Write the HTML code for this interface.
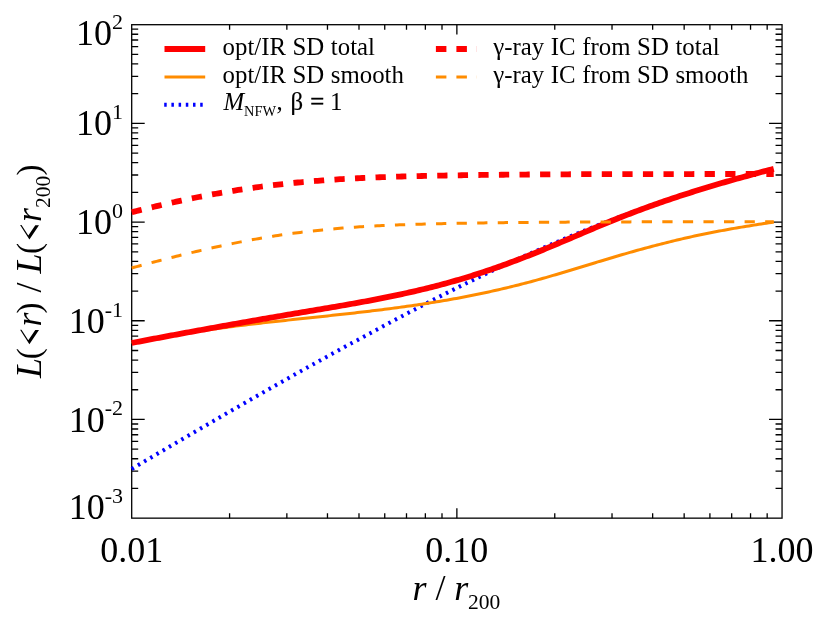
<!DOCTYPE html>
<html><head><meta charset="utf-8"><title>chart</title>
<style>html,body{margin:0;padding:0;background:#fff;}body{width:822px;height:617px;overflow:hidden;position:relative;font-family:"Liberation Serif",serif;}</style>
</head><body>
<svg width="822" height="617" viewBox="0 0 822 617" style="position:absolute;left:0;top:0;will-change:transform">
<g stroke="#000" stroke-width="1.3" fill="none" stroke-linecap="butt">
<rect x="131.7" y="24.7" width="650.3499999999999" height="493.45"/>
<path d="M229.59,518.15v-4.93 M229.59,24.7v4.93"/>
<path d="M286.85,518.15v-4.93 M286.85,24.7v4.93"/>
<path d="M327.47,518.15v-4.93 M327.47,24.7v4.93"/>
<path d="M358.99,518.15v-4.93 M358.99,24.7v4.93"/>
<path d="M384.74,518.15v-4.93 M384.74,24.7v4.93"/>
<path d="M406.50,518.15v-4.93 M406.50,24.7v4.93"/>
<path d="M425.36,518.15v-4.93 M425.36,24.7v4.93"/>
<path d="M442.00,518.15v-4.93 M442.00,24.7v4.93"/>
<path d="M456.87,518.15v-9.87 M456.87,24.7v9.87"/>
<path d="M554.76,518.15v-4.93 M554.76,24.7v4.93"/>
<path d="M612.02,518.15v-4.93 M612.02,24.7v4.93"/>
<path d="M652.65,518.15v-4.93 M652.65,24.7v4.93"/>
<path d="M684.16,518.15v-4.93 M684.16,24.7v4.93"/>
<path d="M709.91,518.15v-4.93 M709.91,24.7v4.93"/>
<path d="M731.68,518.15v-4.93 M731.68,24.7v4.93"/>
<path d="M750.54,518.15v-4.93 M750.54,24.7v4.93"/>
<path d="M767.17,518.15v-4.93 M767.17,24.7v4.93"/>
<path d="M131.7,488.44h6.5 M782.05,488.44h-6.5"/>
<path d="M131.7,471.06h6.5 M782.05,471.06h-6.5"/>
<path d="M131.7,458.73h6.5 M782.05,458.73h-6.5"/>
<path d="M131.7,449.17h6.5 M782.05,449.17h-6.5"/>
<path d="M131.7,441.35h6.5 M782.05,441.35h-6.5"/>
<path d="M131.7,434.75h6.5 M782.05,434.75h-6.5"/>
<path d="M131.7,429.02h6.5 M782.05,429.02h-6.5"/>
<path d="M131.7,423.98h6.5 M782.05,423.98h-6.5"/>
<path d="M131.7,419.46h13.0 M782.05,419.46h-13.0"/>
<path d="M131.7,389.75h6.5 M782.05,389.75h-6.5"/>
<path d="M131.7,372.37h6.5 M782.05,372.37h-6.5"/>
<path d="M131.7,360.04h6.5 M782.05,360.04h-6.5"/>
<path d="M131.7,350.48h6.5 M782.05,350.48h-6.5"/>
<path d="M131.7,342.66h6.5 M782.05,342.66h-6.5"/>
<path d="M131.7,336.06h6.5 M782.05,336.06h-6.5"/>
<path d="M131.7,330.33h6.5 M782.05,330.33h-6.5"/>
<path d="M131.7,325.29h6.5 M782.05,325.29h-6.5"/>
<path d="M131.7,320.77h13.0 M782.05,320.77h-13.0"/>
<path d="M131.7,291.06h6.5 M782.05,291.06h-6.5"/>
<path d="M131.7,273.68h6.5 M782.05,273.68h-6.5"/>
<path d="M131.7,261.35h6.5 M782.05,261.35h-6.5"/>
<path d="M131.7,251.79h6.5 M782.05,251.79h-6.5"/>
<path d="M131.7,243.97h6.5 M782.05,243.97h-6.5"/>
<path d="M131.7,237.37h6.5 M782.05,237.37h-6.5"/>
<path d="M131.7,231.64h6.5 M782.05,231.64h-6.5"/>
<path d="M131.7,226.60h6.5 M782.05,226.60h-6.5"/>
<path d="M131.7,222.08h13.0 M782.05,222.08h-13.0"/>
<path d="M131.7,192.37h6.5 M782.05,192.37h-6.5"/>
<path d="M131.7,174.99h6.5 M782.05,174.99h-6.5"/>
<path d="M131.7,162.66h6.5 M782.05,162.66h-6.5"/>
<path d="M131.7,153.10h6.5 M782.05,153.10h-6.5"/>
<path d="M131.7,145.28h6.5 M782.05,145.28h-6.5"/>
<path d="M131.7,138.68h6.5 M782.05,138.68h-6.5"/>
<path d="M131.7,132.95h6.5 M782.05,132.95h-6.5"/>
<path d="M131.7,127.91h6.5 M782.05,127.91h-6.5"/>
<path d="M131.7,123.39h13.0 M782.05,123.39h-13.0"/>
<path d="M131.7,93.68h6.5 M782.05,93.68h-6.5"/>
<path d="M131.7,76.30h6.5 M782.05,76.30h-6.5"/>
<path d="M131.7,63.97h6.5 M782.05,63.97h-6.5"/>
<path d="M131.7,54.41h6.5 M782.05,54.41h-6.5"/>
<path d="M131.7,46.59h6.5 M782.05,46.59h-6.5"/>
<path d="M131.7,39.99h6.5 M782.05,39.99h-6.5"/>
<path d="M131.7,34.26h6.5 M782.05,34.26h-6.5"/>
<path d="M131.7,29.22h6.5 M782.05,29.22h-6.5"/>
</g>
<path d="M131.70,468.94 L134.18,467.47 L136.66,466.01 L139.14,464.55 L141.62,463.08 L144.09,461.62 L146.57,460.16 L149.05,458.70 L151.53,457.24 L154.01,455.78 L156.49,454.32 L158.97,452.86 L161.45,451.40 L163.93,449.95 L166.41,448.49 L168.88,447.04 L171.36,445.58 L173.84,444.13 L176.32,442.68 L178.80,441.22 L181.28,439.77 L183.76,438.32 L186.24,436.87 L188.72,435.43 L191.19,433.98 L193.67,432.53 L196.15,431.09 L198.63,429.64 L201.11,428.20 L203.59,426.75 L206.07,425.31 L208.55,423.87 L211.03,422.43 L213.51,420.99 L215.98,419.56 L218.46,418.12 L220.94,416.68 L223.42,415.25 L225.90,413.81 L228.38,412.38 L230.86,410.95 L233.34,409.52 L235.82,408.09 L238.30,406.66 L240.77,405.24 L243.25,403.81 L245.73,402.39 L248.21,400.97 L250.69,399.55 L253.17,398.13 L255.65,396.71 L258.13,395.29 L260.61,393.87 L263.08,392.46 L265.56,391.05 L268.04,389.63 L270.52,388.22 L273.00,386.82 L275.48,385.41 L277.96,384.00 L280.44,382.60 L282.92,381.20 L285.40,379.79 L287.87,378.40 L290.35,377.00 L292.83,375.60 L295.31,374.21 L297.79,372.81 L300.27,371.42 L302.75,370.04 L305.23,368.66 L307.71,367.29 L310.18,365.91 L312.66,364.54 L315.14,363.16 L317.62,361.79 L320.10,360.42 L322.58,359.06 L325.06,357.69 L327.54,356.33 L330.02,354.97 L332.50,353.61 L334.97,352.26 L337.45,350.90 L339.93,349.55 L342.41,348.20 L344.89,346.85 L347.37,345.51 L349.85,344.16 L352.33,342.82 L354.81,341.48 L357.29,340.15 L359.76,338.81 L362.24,337.48 L364.72,336.15 L367.20,334.83 L369.68,333.50 L372.16,332.16 L374.64,330.81 L377.12,329.47 L379.60,328.13 L382.07,326.79 L384.55,325.45 L387.03,324.12 L389.51,322.79 L391.99,321.46 L394.47,320.14 L396.95,318.82 L399.43,317.50 L401.91,316.18 L404.39,314.87 L406.86,313.56 L409.34,312.25 L411.82,310.95 L414.30,309.65 L416.78,308.35 L419.26,307.05 L421.74,305.76 L424.22,304.47 L426.70,303.19 L429.17,301.91 L431.65,300.64 L434.13,299.38 L436.61,298.11 L439.09,296.86 L441.57,295.60 L444.05,294.35 L446.53,293.10 L449.01,291.85 L451.49,290.61 L453.96,289.38 L456.44,288.14 L458.92,286.91 L461.40,285.68 L463.88,284.46 L466.36,283.24 L468.84,282.03 L471.32,280.81 L473.80,279.61 L476.28,278.40 L478.75,277.20 L481.23,276.01 L483.71,274.82 L486.19,273.63 L488.67,272.44 L491.15,271.27 L493.63,270.11 L496.11,268.96 L498.59,267.81 L501.06,266.66 L503.54,265.52 L506.02,264.38 L508.50,263.25 L510.98,262.12 L513.46,260.99 L515.94,259.87 L518.42,258.76 L520.90,257.65 L523.38,256.54 L525.85,255.44 L528.33,254.34 L530.81,253.24 L533.29,252.16 L535.77,251.07 L538.25,249.99 L540.73,248.92 L543.21,247.85 L545.69,246.78 L548.16,245.72 L550.64,244.66 L553.12,243.59 L555.60,242.54 L558.08,241.48 L560.56,240.44 L563.04,239.39 L565.52,238.35 L568.00,237.32 L570.48,236.29 L572.95,235.27 L575.43,234.25 L577.91,233.24 L580.39,232.23 L582.87,231.23 L585.35,230.23 L587.83,229.23 L590.31,228.24 L592.79,227.26 L595.27,226.28 L597.74,225.31 L600.22,224.34 L602.70,223.38 L605.18,222.42 L607.66,221.46 L610.14,220.52 L612.62,219.57 L615.10,218.63 L617.58,217.70 L620.05,216.77 L622.53,215.85 L625.01,214.93 L627.49,214.02 L629.97,213.11 L632.45,212.21 L634.93,211.31 L637.41,210.42 L639.89,209.53 L642.37,208.65 L644.84,207.77 L647.32,206.90 L649.80,206.04 L652.28,205.17 L654.76,204.32 L657.24,203.47 L659.72,202.62 L662.20,201.78 L664.68,200.94 L667.15,200.11 L669.63,199.28 L672.11,198.46 L674.59,197.65 L677.07,196.83 L679.55,196.03 L682.03,195.23 L684.51,194.43 L686.99,193.64 L689.47,192.85 L691.94,192.07 L694.42,191.29 L696.90,190.52 L699.38,189.76 L701.86,189.00 L704.34,188.24 L706.82,187.49 L709.30,186.74 L711.78,186.00 L714.26,185.26 L716.73,184.53 L719.21,183.80 L721.69,183.07 L724.17,182.36 L726.65,181.64 L729.13,180.93 L731.61,180.23 L734.09,179.53 L736.57,178.83 L739.04,178.14 L741.52,177.46 L744.00,176.78 L746.48,176.10 L748.96,175.43 L751.44,174.76 L753.92,174.09 L756.40,173.44 L758.88,172.78 L761.36,172.13 L763.83,171.49 L766.31,170.84 L768.79,170.21 L771.27,169.57 L773.75,168.95" fill="none" stroke="#0000ff" stroke-width="4" stroke-dasharray="2.5 4.7"/>
<path d="M131.70,343.33 L134.18,342.79 L136.66,342.26 L139.14,341.74 L141.62,341.23 L144.09,340.72 L146.57,340.22 L149.05,339.73 L151.53,339.24 L154.01,338.76 L156.49,338.29 L158.97,337.83 L161.45,337.37 L163.93,336.92 L166.41,336.47 L168.88,336.03 L171.36,335.60 L173.84,335.17 L176.32,334.75 L178.80,334.33 L181.28,333.92 L183.76,333.52 L186.24,333.12 L188.72,332.73 L191.19,332.34 L193.67,331.96 L196.15,331.58 L198.63,331.20 L201.11,330.84 L203.59,330.47 L206.07,330.11 L208.55,329.76 L211.03,329.41 L213.51,329.06 L215.98,328.72 L218.46,328.38 L220.94,328.05 L223.42,327.72 L225.90,327.39 L228.38,327.07 L230.86,326.75 L233.34,326.44 L235.82,326.12 L238.30,325.81 L240.77,325.51 L243.25,325.20 L245.73,324.90 L248.21,324.61 L250.69,324.31 L253.17,324.02 L255.65,323.73 L258.13,323.44 L260.61,323.16 L263.08,322.87 L265.56,322.59 L268.04,322.31 L270.52,322.04 L273.00,321.76 L275.48,321.49 L277.96,321.21 L280.44,320.94 L282.92,320.67 L285.40,320.40 L287.87,320.13 L290.35,319.87 L292.83,319.60 L295.31,319.34 L297.79,319.07 L300.27,318.81 L302.75,318.54 L305.23,318.28 L307.71,318.01 L310.18,317.75 L312.66,317.49 L315.14,317.22 L317.62,316.96 L320.10,316.69 L322.58,316.43 L325.06,316.16 L327.54,315.90 L330.02,315.63 L332.50,315.36 L334.97,315.09 L337.45,314.82 L339.93,314.55 L342.41,314.28 L344.89,314.00 L347.37,313.73 L349.85,313.45 L352.33,313.17 L354.81,312.89 L357.29,312.61 L359.76,312.32 L362.24,312.03 L364.72,311.74 L367.20,311.45 L369.68,311.16 L372.16,310.86 L374.64,310.56 L377.12,310.26 L379.60,309.95 L382.07,309.64 L384.55,309.33 L387.03,309.01 L389.51,308.69 L391.99,308.37 L394.47,308.05 L396.95,307.72 L399.43,307.38 L401.91,307.04 L404.39,306.70 L406.86,306.36 L409.34,306.01 L411.82,305.65 L414.30,305.29 L416.78,304.93 L419.26,304.56 L421.74,304.19 L424.22,303.81 L426.70,303.43 L429.17,303.04 L431.65,302.64 L434.13,302.24 L436.61,301.84 L439.09,301.43 L441.57,301.01 L444.05,300.59 L446.53,300.17 L449.01,299.73 L451.49,299.29 L453.96,298.85 L456.44,298.40 L458.92,297.94 L461.40,297.47 L463.88,297.00 L466.36,296.52 L468.84,296.04 L471.32,295.55 L473.80,295.05 L476.28,294.55 L478.75,294.04 L481.23,293.52 L483.71,292.99 L486.19,292.46 L488.67,291.93 L491.15,291.38 L493.63,290.83 L496.11,290.27 L498.59,289.70 L501.06,289.13 L503.54,288.55 L506.02,287.96 L508.50,287.37 L510.98,286.77 L513.46,286.16 L515.94,285.54 L518.42,284.92 L520.90,284.29 L523.38,283.65 L525.85,283.01 L528.33,282.35 L530.81,281.69 L533.29,281.03 L535.77,280.35 L538.25,279.67 L540.73,278.98 L543.21,278.28 L545.69,277.57 L548.16,276.86 L550.64,276.15 L553.12,275.43 L555.60,274.70 L558.08,273.97 L560.56,273.23 L563.04,272.50 L565.52,271.75 L568.00,271.01 L570.48,270.26 L572.95,269.51 L575.43,268.75 L577.91,268.00 L580.39,267.24 L582.87,266.49 L585.35,265.73 L587.83,264.97 L590.31,264.21 L592.79,263.46 L595.27,262.70 L597.74,261.94 L600.22,261.19 L602.70,260.44 L605.18,259.69 L607.66,258.95 L610.14,258.20 L612.62,257.46 L615.10,256.73 L617.58,256.00 L620.05,255.27 L622.53,254.55 L625.01,253.83 L627.49,253.12 L629.97,252.41 L632.45,251.71 L634.93,251.01 L637.41,250.32 L639.89,249.63 L642.37,248.95 L644.84,248.28 L647.32,247.61 L649.80,246.94 L652.28,246.28 L654.76,245.63 L657.24,244.98 L659.72,244.34 L662.20,243.71 L664.68,243.08 L667.15,242.46 L669.63,241.84 L672.11,241.24 L674.59,240.64 L677.07,240.04 L679.55,239.45 L682.03,238.87 L684.51,238.30 L686.99,237.74 L689.47,237.18 L691.94,236.63 L694.42,236.09 L696.90,235.55 L699.38,235.03 L701.86,234.51 L704.34,234.00 L706.82,233.49 L709.30,233.00 L711.78,232.51 L714.26,232.02 L716.73,231.55 L719.21,231.08 L721.69,230.61 L724.17,230.16 L726.65,229.71 L729.13,229.26 L731.61,228.82 L734.09,228.39 L736.57,227.96 L739.04,227.54 L741.52,227.13 L744.00,226.72 L746.48,226.31 L748.96,225.91 L751.44,225.51 L753.92,225.12 L756.40,224.74 L758.88,224.35 L761.36,223.97 L763.83,223.60 L766.31,223.23 L768.79,222.86 L771.27,222.50 L773.75,222.14" fill="none" stroke="#ff8c00" stroke-width="3.0"/>
<path d="M131.70,342.95 L134.18,342.48 L136.66,342.01 L139.14,341.54 L141.62,341.07 L144.09,340.60 L146.57,340.13 L149.05,339.66 L151.53,339.19 L154.01,338.72 L156.49,338.26 L158.97,337.79 L161.45,337.32 L163.93,336.86 L166.41,336.40 L168.88,335.93 L171.36,335.47 L173.84,335.01 L176.32,334.55 L178.80,334.09 L181.28,333.63 L183.76,333.17 L186.24,332.72 L188.72,332.26 L191.19,331.81 L193.67,331.35 L196.15,330.90 L198.63,330.44 L201.11,329.99 L203.59,329.54 L206.07,329.09 L208.55,328.64 L211.03,328.19 L213.51,327.74 L215.98,327.30 L218.46,326.85 L220.94,326.40 L223.42,325.96 L225.90,325.52 L228.38,325.07 L230.86,324.63 L233.34,324.19 L235.82,323.75 L238.30,323.31 L240.77,322.87 L243.25,322.44 L245.73,322.00 L248.21,321.56 L250.69,321.13 L253.17,320.70 L255.65,320.26 L258.13,319.83 L260.61,319.40 L263.08,318.97 L265.56,318.54 L268.04,318.11 L270.52,317.69 L273.00,317.26 L275.48,316.83 L277.96,316.41 L280.44,315.99 L282.92,315.56 L285.40,315.14 L287.87,314.72 L290.35,314.30 L292.83,313.88 L295.31,313.47 L297.79,313.05 L300.27,312.64 L302.75,312.22 L305.23,311.80 L307.71,311.39 L310.18,310.97 L312.66,310.56 L315.14,310.14 L317.62,309.73 L320.10,309.31 L322.58,308.89 L325.06,308.47 L327.54,308.05 L330.02,307.63 L332.50,307.21 L334.97,306.79 L337.45,306.36 L339.93,305.93 L342.41,305.50 L344.89,305.07 L347.37,304.63 L349.85,304.19 L352.33,303.75 L354.81,303.31 L357.29,302.86 L359.76,302.41 L362.24,301.96 L364.72,301.50 L367.20,301.04 L369.68,300.57 L372.16,300.10 L374.64,299.63 L377.12,299.15 L379.60,298.66 L382.07,298.18 L384.55,297.68 L387.03,297.18 L389.51,296.68 L391.99,296.17 L394.47,295.65 L396.95,295.13 L399.43,294.60 L401.91,294.07 L404.39,293.53 L406.86,292.98 L409.34,292.43 L411.82,291.87 L414.30,291.30 L416.78,290.73 L419.26,290.14 L421.74,289.55 L424.22,288.96 L426.70,288.35 L429.17,287.74 L431.65,287.12 L434.13,286.48 L436.61,285.85 L439.09,285.20 L441.57,284.54 L444.05,283.88 L446.53,283.20 L449.01,282.52 L451.49,281.82 L453.96,281.12 L456.44,280.40 L458.92,279.68 L461.40,278.95 L463.88,278.20 L466.36,277.45 L468.84,276.69 L471.32,275.92 L473.80,275.14 L476.28,274.35 L478.75,273.55 L481.23,272.74 L483.71,271.92 L486.19,271.09 L488.67,270.25 L491.15,269.41 L493.63,268.55 L496.11,267.69 L498.59,266.82 L501.06,265.94 L503.54,265.05 L506.02,264.15 L508.50,263.24 L510.98,262.33 L513.46,261.40 L515.94,260.47 L518.42,259.53 L520.90,258.59 L523.38,257.63 L525.85,256.67 L528.33,255.69 L530.81,254.72 L533.29,253.73 L535.77,252.73 L538.25,251.73 L540.73,250.72 L543.21,249.70 L545.69,248.68 L548.16,247.65 L550.64,246.62 L553.12,245.58 L555.60,244.54 L558.08,243.49 L560.56,242.44 L563.04,241.39 L565.52,240.34 L568.00,239.28 L570.48,238.22 L572.95,237.16 L575.43,236.10 L577.91,235.05 L580.39,233.99 L582.87,232.93 L585.35,231.87 L587.83,230.82 L590.31,229.77 L592.79,228.72 L595.27,227.68 L597.74,226.64 L600.22,225.60 L602.70,224.57 L605.18,223.55 L607.66,222.53 L610.14,221.52 L612.62,220.51 L615.10,219.51 L617.58,218.52 L620.05,217.54 L622.53,216.56 L625.01,215.60 L627.49,214.64 L629.97,213.68 L632.45,212.74 L634.93,211.80 L637.41,210.87 L639.89,209.95 L642.37,209.04 L644.84,208.13 L647.32,207.23 L649.80,206.33 L652.28,205.44 L654.76,204.56 L657.24,203.69 L659.72,202.82 L662.20,201.96 L664.68,201.11 L667.15,200.26 L669.63,199.42 L672.11,198.58 L674.59,197.75 L677.07,196.93 L679.55,196.11 L682.03,195.30 L684.51,194.50 L686.99,193.70 L689.47,192.91 L691.94,192.12 L694.42,191.34 L696.90,190.56 L699.38,189.79 L701.86,189.02 L704.34,188.26 L706.82,187.51 L709.30,186.76 L711.78,186.01 L714.26,185.27 L716.73,184.54 L719.21,183.81 L721.69,183.08 L724.17,182.36 L726.65,181.65 L729.13,180.94 L731.61,180.23 L734.09,179.53 L736.57,178.83 L739.04,178.14 L741.52,177.45 L744.00,176.76 L746.48,176.08 L748.96,175.40 L751.44,174.73 L753.92,174.06 L756.40,173.39 L758.88,172.73 L761.36,172.07 L763.83,171.42 L766.31,170.77 L768.79,170.12 L771.27,169.47 L773.75,168.83" fill="none" stroke="#ff0000" stroke-width="5.8"/>
<path d="M131.70,212.23 L134.18,211.61 L136.66,210.99 L139.14,210.37 L141.62,209.76 L144.09,209.16 L146.57,208.55 L149.05,207.95 L151.53,207.36 L154.01,206.77 L156.49,206.18 L158.97,205.60 L161.45,205.03 L163.93,204.46 L166.41,203.89 L168.88,203.33 L171.36,202.77 L173.84,202.22 L176.32,201.68 L178.80,201.14 L181.28,200.60 L183.76,200.08 L186.24,199.55 L188.72,199.04 L191.19,198.52 L193.67,198.02 L196.15,197.52 L198.63,197.02 L201.11,196.54 L203.59,196.06 L206.07,195.58 L208.55,195.11 L211.03,194.65 L213.51,194.19 L215.98,193.74 L218.46,193.30 L220.94,192.86 L223.42,192.43 L225.90,192.00 L228.38,191.59 L230.86,191.17 L233.34,190.77 L235.82,190.37 L238.30,189.98 L240.77,189.59 L243.25,189.22 L245.73,188.84 L248.21,188.48 L250.69,188.12 L253.17,187.77 L255.65,187.42 L258.13,187.08 L260.61,186.75 L263.08,186.42 L265.56,186.10 L268.04,185.79 L270.52,185.48 L273.00,185.18 L275.48,184.89 L277.96,184.60 L280.44,184.32 L282.92,184.04 L285.40,183.77 L287.87,183.51 L290.35,183.25 L292.83,183.00 L295.31,182.75 L297.79,182.51 L300.27,182.28 L302.75,182.05 L305.23,181.83 L307.71,181.61 L310.18,181.39 L312.66,181.19 L315.14,180.98 L317.62,180.79 L320.10,180.59 L322.58,180.41 L325.06,180.22 L327.54,180.05 L330.02,179.87 L332.50,179.70 L334.97,179.54 L337.45,179.38 L339.93,179.23 L342.41,179.07 L344.89,178.93 L347.37,178.78 L349.85,178.65 L352.33,178.51 L354.81,178.38 L357.29,178.25 L359.76,178.13 L362.24,178.01 L364.72,177.89 L367.20,177.78 L369.68,177.67 L372.16,177.56 L374.64,177.46 L377.12,177.35 L379.60,177.26 L382.07,177.16 L384.55,177.07 L387.03,176.98 L389.51,176.89 L391.99,176.81 L394.47,176.73 L396.95,176.65 L399.43,176.57 L401.91,176.50 L404.39,176.42 L406.86,176.35 L409.34,176.29 L411.82,176.22 L414.30,176.16 L416.78,176.10 L419.26,176.04 L421.74,175.98 L424.22,175.92 L426.70,175.87 L429.17,175.82 L431.65,175.76 L434.13,175.71 L436.61,175.67 L439.09,175.62 L441.57,175.58 L444.05,175.53 L446.53,175.49 L449.01,175.45 L451.49,175.41 L453.96,175.37 L456.44,175.32 L458.92,175.28 L461.40,175.25 L463.88,175.21 L466.36,175.17 L468.84,175.14 L471.32,175.10 L473.80,175.07 L476.28,175.03 L478.75,175.00 L481.23,174.97 L483.71,174.94 L486.19,174.91 L488.67,174.88 L491.15,174.86 L493.63,174.83 L496.11,174.80 L498.59,174.78 L501.06,174.75 L503.54,174.73 L506.02,174.71 L508.50,174.68 L510.98,174.66 L513.46,174.64 L515.94,174.62 L518.42,174.60 L520.90,174.58 L523.38,174.56 L525.85,174.54 L528.33,174.52 L530.81,174.50 L533.29,174.48 L535.77,174.47 L538.25,174.45 L540.73,174.43 L543.21,174.42 L545.69,174.40 L548.16,174.39 L550.64,174.37 L553.12,174.36 L555.60,174.34 L558.08,174.33 L560.56,174.31 L563.04,174.30 L565.52,174.29 L568.00,174.28 L570.48,174.26 L572.95,174.25 L575.43,174.24 L577.91,174.23 L580.39,174.21 L582.87,174.20 L585.35,174.19 L587.83,174.18 L590.31,174.17 L592.79,174.16 L595.27,174.15 L597.74,174.14 L600.22,174.13 L602.70,174.12 L605.18,174.12 L607.66,174.12 L610.14,174.11 L612.62,174.11 L615.10,174.10 L617.58,174.10 L620.05,174.10 L622.53,174.09 L625.01,174.09 L627.49,174.08 L629.97,174.08 L632.45,174.08 L634.93,174.07 L637.41,174.07 L639.89,174.07 L642.37,174.07 L644.84,174.06 L647.32,174.06 L649.80,174.06 L652.28,174.06 L654.76,174.05 L657.24,174.05 L659.72,174.05 L662.20,174.05 L664.68,174.04 L667.15,174.04 L669.63,174.04 L672.11,174.04 L674.59,174.04 L677.07,174.04 L679.55,174.03 L682.03,174.03 L684.51,174.03 L686.99,174.03 L689.47,174.03 L691.94,174.03 L694.42,174.02 L696.90,174.02 L699.38,174.02 L701.86,174.02 L704.34,174.02 L706.82,174.02 L709.30,174.02 L711.78,174.02 L714.26,174.02 L716.73,174.01 L719.21,174.01 L721.69,174.01 L724.17,174.01 L726.65,174.01 L729.13,174.01 L731.61,174.01 L734.09,174.01 L736.57,174.01 L739.04,174.01 L741.52,174.01 L744.00,174.01 L746.48,174.01 L748.96,174.00 L751.44,174.00 L753.92,174.00 L756.40,174.00 L758.88,174.00 L761.36,174.00 L763.83,174.00 L766.31,174.00 L768.79,174.00 L771.27,174.00 L773.75,174.00" fill="none" stroke="#ff0000" stroke-width="5.8" stroke-dasharray="10.25 10.32"/>
<path d="M131.70,267.95 L134.18,267.28 L136.66,266.61 L139.14,265.94 L141.62,265.28 L144.09,264.62 L146.57,263.96 L149.05,263.31 L151.53,262.65 L154.01,262.01 L156.49,261.36 L158.97,260.72 L161.45,260.08 L163.93,259.44 L166.41,258.81 L168.88,258.18 L171.36,257.55 L173.84,256.93 L176.32,256.31 L178.80,255.69 L181.28,255.08 L183.76,254.47 L186.24,253.87 L188.72,253.27 L191.19,252.68 L193.67,252.09 L196.15,251.50 L198.63,250.92 L201.11,250.35 L203.59,249.78 L206.07,249.21 L208.55,248.65 L211.03,248.10 L213.51,247.55 L215.98,247.00 L218.46,246.46 L220.94,245.93 L223.42,245.40 L225.90,244.88 L228.38,244.37 L230.86,243.86 L233.34,243.36 L235.82,242.86 L238.30,242.37 L240.77,241.89 L243.25,241.41 L245.73,240.94 L248.21,240.48 L250.69,240.02 L253.17,239.57 L255.65,239.13 L258.13,238.70 L260.61,238.27 L263.08,237.85 L265.56,237.43 L268.04,237.03 L270.52,236.63 L273.00,236.23 L275.48,235.85 L277.96,235.47 L280.44,235.10 L282.92,234.74 L285.40,234.38 L287.87,234.03 L290.35,233.69 L292.83,233.36 L295.31,233.03 L297.79,232.71 L300.27,232.40 L302.75,232.09 L305.23,231.79 L307.71,231.50 L310.18,231.22 L312.66,230.94 L315.14,230.67 L317.62,230.41 L320.10,230.15 L322.58,229.90 L325.06,229.65 L327.54,229.42 L330.02,229.18 L332.50,228.96 L334.97,228.74 L337.45,228.53 L339.93,228.32 L342.41,228.12 L344.89,227.93 L347.37,227.74 L349.85,227.55 L352.33,227.37 L354.81,227.20 L357.29,227.03 L359.76,226.87 L362.24,226.71 L364.72,226.56 L367.20,226.41 L369.68,226.27 L372.16,226.13 L374.64,225.99 L377.12,225.86 L379.60,225.73 L382.07,225.61 L384.55,225.49 L387.03,225.38 L389.51,225.27 L391.99,225.16 L394.47,225.06 L396.95,224.96 L399.43,224.86 L401.91,224.77 L404.39,224.68 L406.86,224.59 L409.34,224.51 L411.82,224.43 L414.30,224.35 L416.78,224.27 L419.26,224.20 L421.74,224.13 L424.22,224.06 L426.70,224.00 L429.17,223.94 L431.65,223.87 L434.13,223.82 L436.61,223.76 L439.09,223.70 L441.57,223.65 L444.05,223.60 L446.53,223.55 L449.01,223.50 L451.49,223.45 L453.96,223.40 L456.44,223.35 L458.92,223.31 L461.40,223.26 L463.88,223.21 L466.36,223.17 L468.84,223.13 L471.32,223.09 L473.80,223.05 L476.28,223.01 L478.75,222.97 L481.23,222.93 L483.71,222.90 L486.19,222.86 L488.67,222.83 L491.15,222.80 L493.63,222.77 L496.11,222.73 L498.59,222.70 L501.06,222.68 L503.54,222.65 L506.02,222.62 L508.50,222.59 L510.98,222.57 L513.46,222.54 L515.94,222.52 L518.42,222.49 L520.90,222.47 L523.38,222.45 L525.85,222.42 L528.33,222.40 L530.81,222.38 L533.29,222.36 L535.77,222.34 L538.25,222.32 L540.73,222.30 L543.21,222.28 L545.69,222.26 L548.16,222.24 L550.64,222.23 L553.12,222.21 L555.60,222.19 L558.08,222.18 L560.56,222.16 L563.04,222.14 L565.52,222.13 L568.00,222.11 L570.48,222.10 L572.95,222.08 L575.43,222.07 L577.91,222.05 L580.39,222.04 L582.87,222.02 L585.35,222.01 L587.83,222.00 L590.31,221.98 L592.79,221.97 L595.27,221.96 L597.74,221.95 L600.22,221.93 L602.70,221.93 L605.18,221.92 L607.66,221.92 L610.14,221.91 L612.62,221.91 L615.10,221.90 L617.58,221.90 L620.05,221.89 L622.53,221.89 L625.01,221.88 L627.49,221.88 L629.97,221.88 L632.45,221.87 L634.93,221.87 L637.41,221.87 L639.89,221.86 L642.37,221.86 L644.84,221.85 L647.32,221.85 L649.80,221.85 L652.28,221.84 L654.76,221.84 L657.24,221.84 L659.72,221.84 L662.20,221.83 L664.68,221.83 L667.15,221.83 L669.63,221.82 L672.11,221.82 L674.59,221.82 L677.07,221.82 L679.55,221.81 L682.03,221.81 L684.51,221.81 L686.99,221.81 L689.47,221.80 L691.94,221.80 L694.42,221.80 L696.90,221.80 L699.38,221.79 L701.86,221.79 L704.34,221.79 L706.82,221.79 L709.30,221.79 L711.78,221.78 L714.26,221.78 L716.73,221.78 L719.21,221.78 L721.69,221.78 L724.17,221.77 L726.65,221.77 L729.13,221.77 L731.61,221.77 L734.09,221.77 L736.57,221.76 L739.04,221.76 L741.52,221.76 L744.00,221.76 L746.48,221.76 L748.96,221.75 L751.44,221.75 L753.92,221.75 L756.40,221.75 L758.88,221.75 L761.36,221.75 L763.83,221.74 L766.31,221.74 L768.79,221.74 L771.27,221.74 L773.75,221.74" fill="none" stroke="#ff8c00" stroke-width="3.0" stroke-dasharray="10.25 10.32"/>
<text x="131.70" y="562.4" font-family="Liberation Serif, serif" font-size="36" text-anchor="middle">0.01</text>
<text x="456.87" y="562.4" font-family="Liberation Serif, serif" font-size="36" text-anchor="middle">0.10</text>
<text x="782.05" y="562.4" font-family="Liberation Serif, serif" font-size="36" text-anchor="middle">1.00</text>
<text x="123.0" y="45.4" font-family="Liberation Serif, serif" font-size="36" text-anchor="end">10<tspan font-size="22" dy="-16.3">2</tspan></text>
<text x="123.0" y="135.4" font-family="Liberation Serif, serif" font-size="36" text-anchor="end">10<tspan font-size="22" dy="-16.3">1</tspan></text>
<text x="123.0" y="234.2" font-family="Liberation Serif, serif" font-size="36" text-anchor="end">10<tspan font-size="22" dy="-16.3">0</tspan></text>
<text x="123.0" y="332.9" font-family="Liberation Serif, serif" font-size="36" text-anchor="end">10<tspan font-size="22" dy="-16.3">-1</tspan></text>
<text x="123.0" y="431.6" font-family="Liberation Serif, serif" font-size="36" text-anchor="end">10<tspan font-size="22" dy="-16.3">-2</tspan></text>
<text x="123.0" y="518.9" font-family="Liberation Serif, serif" font-size="36" text-anchor="end">10<tspan font-size="22" dy="-16.3">-3</tspan></text>
<text transform="translate(0,599.8)" font-family="Liberation Serif, serif" font-size="36"><tspan x="412.5" y="0" font-size="36" font-style="italic">r</tspan><tspan x="435.4" y="0" font-size="36">/</tspan><tspan x="454.3" y="0" font-size="36" font-style="italic">r</tspan><tspan x="468.0" y="8.8" font-size="21.5">200</tspan></text>
<g transform="translate(41.0,378.5) rotate(-90)"><text font-family="Liberation Serif, serif" font-size="36"><tspan x="0.4" y="0" font-size="36" font-style="italic">L</tspan><tspan x="19.25" y="-1.0" font-size="33">(</tspan><tspan x="32.0" y="0" font-size="36" fill="none">&lt;</tspan><tspan x="52.0" y="0" font-size="36" font-style="italic">r</tspan><tspan x="64.9" y="-1.0" font-size="33">)</tspan><tspan x="86.1" y="0" font-size="36">/</tspan><tspan x="104.9" y="0" font-size="36" font-style="italic">L</tspan><tspan x="124.55" y="-1.0" font-size="33">(</tspan><tspan x="137.0" y="0" font-size="36" fill="none">&lt;</tspan><tspan x="156.4" y="0" font-size="36" font-style="italic">r</tspan><tspan x="170.5" y="8.8" font-size="21.5">200</tspan><tspan x="202.9" y="-1.0" font-size="33">)</tspan></text><path d="M34.30,-11.60 L48.70,-20.90 L48.70,-19.50 L38.30,-12.70 L48.60,-5.70 L48.60,-2.00Z" fill="#000" stroke="none"/><path d="M139.00,-11.60 L153.40,-20.90 L153.40,-19.50 L143.00,-12.70 L153.30,-5.70 L153.30,-2.00Z" fill="#000" stroke="none"/></g>
<path d="M164.5,49H205.2" stroke="#ff0000" stroke-width="5.8"/>
<path d="M164.5,77H205.2" stroke="#ff8c00" stroke-width="3.0"/>
<path d="M164.2,104.8H205.2" stroke="#0000ff" stroke-width="4" stroke-dasharray="2.5 4.7"/>
<path d="M435.9,49H477" stroke="#ff0000" stroke-width="5.8" stroke-dasharray="10.5 10"/>
<path d="M435.9,77H477" stroke="#ff8c00" stroke-width="3.0" stroke-dasharray="10.5 10"/>
<text x="222.6" y="55.3" font-family="Liberation Serif, serif" font-size="24.8" word-spacing="0.4">opt/IR SD total</text>
<text x="222.6" y="82.9" font-family="Liberation Serif, serif" font-size="24.8" word-spacing="0.4">opt/IR SD smooth</text>
<text transform="translate(0,110.3)" font-family="Liberation Serif, serif" font-size="24.8"><tspan x="223.4" y="0" font-size="24.8" font-style="italic">M</tspan><tspan x="244.0" y="6" font-size="14.4">NFW</tspan><tspan x="276.4" y="0" font-size="24.8">,</tspan><tspan x="290.6" y="0" font-size="24.8" stroke="#000" stroke-width="0.2">β</tspan><tspan x="310.2" y="0" font-size="24.8" stroke="#000" stroke-width="0.45">=</tspan><tspan x="330.0" y="0" font-size="24.8">1</tspan></text>
<text x="493.3" y="55.3" font-family="Liberation Serif, serif" font-size="24.8" word-spacing="0.45">γ-ray IC from SD total</text>
<text x="493.3" y="82.9" font-family="Liberation Serif, serif" font-size="24.8" word-spacing="0.45">γ-ray IC from SD smooth</text>
</svg>
</body></html>
